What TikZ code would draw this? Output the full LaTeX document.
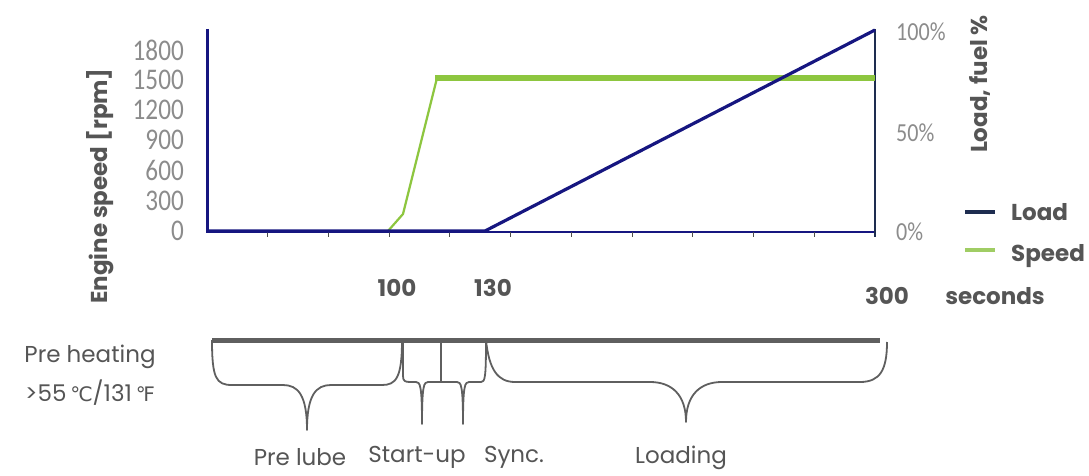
\documentclass[tikz,border=0pt]{standalone}
\usepackage{fontspec}
\setmainfont{Poppins}
\newfontfamily\numfont{Carlito}
\newfontfamily\symfont{DejaVu Sans}
\definecolor{navy}{RGB}{22,22,128}
\definecolor{lime}{RGB}{141,198,63}
\definecolor{legnavy}{RGB}{30,45,80}
\definecolor{leglime}{RGB}{160,205,100}
\definecolor{txt}{RGB}{85,85,85}
\definecolor{tick}{RGB}{140,140,140}
\definecolor{bar}{RGB}{95,95,95}
\begin{document}
\begin{tikzpicture}[x=1pt,y=-1pt,
  axisline/.style={navy,line width=2pt},
  loadline/.style={navy,line width=3.2pt,line join=round},
  speedthin/.style={lime,line width=2.2pt,line join=round},
  speedthick/.style={lime,line width=6pt},
  tickmark/.style={black!70,line width=1pt},
  leftnum/.style={anchor=east,text=tick,inner sep=0pt,font=\numfont\fontsize{30}{30}\selectfont},
  rightnum/.style={anchor=west,text=tick,inner sep=0pt,font=\numfont\fontsize{26}{26}\selectfont},
  axlabel/.style={text=txt,inner sep=0pt,font=\fontsize{23}{26}\selectfont\bfseries},
  phase/.style={text=txt,inner sep=0pt,font=\fontsize{23}{27}\selectfont},
  degsym/.style={font=\symfont\fontsize{20}{24}\selectfont},
  brace/.style={bar,line width=1.8pt,line join=round},
  timebar/.style={bar,line width=5pt}]
\useasboundingbox (0,0) rectangle (1089,476);

% --- plot axes
\draw[navy,line width=3pt] (207,29) -- (207,233);
\draw[axisline] (207,232) -- (875,232);
\draw[legnavy,line width=1.4pt] (875,29) -- (875,237);
\foreach \k in {1,...,10}
  \draw[tickmark] ({207+\k*60.73},232) -- ({207+\k*60.73},237);

% --- speed and load curves
\draw[speedthin] (388,231) -- (403,214) -- (437,78);
\draw[speedthick] (435,78) -- (875,78);
\draw[loadline] (207,231) -- (485,231) -- (875,30);

% --- left scale (engine speed)
\node[leftnum] (r1800) at (184,50)  {\scalebox{0.84}[1]{1800}};
\node[leftnum] (r1500) at (184,80)  {\scalebox{0.84}[1]{1500}};
\node[leftnum] (r1200) at (184,110) {\scalebox{0.84}[1]{1200}};
\node[leftnum] (r900)  at (184,140) {\scalebox{0.84}[1]{900}};
\node[leftnum] (r600)  at (184,170) {\scalebox{0.84}[1]{600}};
\node[leftnum] (r300)  at (184,201) {\scalebox{0.84}[1]{300}};
\node[leftnum] (r0)    at (184,231) {\scalebox{0.84}[1]{0}};
\node[axlabel,rotate=90] (speedlab) at (100,186) {Engine speed [rpm]};

% --- right scale (load)
\node[rightnum] (p100) at (896,32)  {\scalebox{0.85}[1]{100\%}};
\node[rightnum] (p50)  at (896,133) {\scalebox{0.85}[1]{50\%}};
\node[rightnum] (p0)   at (896,232) {\scalebox{0.85}[1]{0\%}};
\node[axlabel,rotate=90] (loadlab) at (980,84) {Load, fuel \%};

% --- legend
\draw[legnavy,line width=4pt] (965,212) -- (995,212);
\draw[leglime,line width=4pt] (965,250) -- (995,250);
\node[axlabel,anchor=west] (legload)  at (1011,212) {Load};
\node[axlabel,anchor=west] (legspeed) at (1011,256) {Speed};

% --- time axis labels
\node[axlabel] (t100) at (397,288) {100};
\node[axlabel] (t130) at (493,288) {130};
\node[axlabel] (t300) at (887,296) {300};
\node[axlabel] (tsec) at (995,296) {seconds};

% --- phase timeline
\draw[timebar] (212,340) -- (880,340);
% pre lube
\draw[brace] (212,340) .. controls (212,378) and (216,385) .. (232,385)
  -- (283,385) .. controls (298,385) and (307,395) .. (307,430)
  .. controls (307,395) and (316,385) .. (331,385)
  -- (382,385) .. controls (396,385) and (402,378) .. (402,340);
% start-up
\draw[brace] (403,340) -- (403,376) .. controls (403,381) and (405,382) .. (410,382)
  -- (416,382) .. controls (420,382) and (422,385) .. (422,424)
  .. controls (422,385) and (424,382) .. (428,382)
  -- (441,382) -- (441,340);
% sync
\draw[brace] (441,382) -- (457,382) .. controls (461,382) and (463,385) .. (463,424)
  .. controls (463,385) and (465,382) .. (469,382)
  -- (481,382) .. controls (485,382) and (486,378) .. (486,340);
% loading
\draw[brace] (486,340) .. controls (489,370) and (498,382) .. (515,382)
  -- (650,382) .. controls (672,382) and (686,395) .. (686,422)
  .. controls (686,395) and (700,382) .. (722,382)
  -- (860,382) .. controls (880,382) and (887,370) .. (887,342);

% --- phase labels
\node[phase] (preheat) at (90,357) {Pre heating};
\node[phase] (temp)    at (90,393) {>55\,{\symfont\fontsize{20}{24}\selectfont ℃}/131\,{\symfont\fontsize{20}{24}\selectfont ℉}};
\node[phase] (prelube) at (300,457) {Pre lube};
\node[phase] (startup) at (417,457) {Start-up};
\node[phase] (sync)    at (514,457) {Sync.};
\node[phase] (loading) at (681,458) {Loading};
\end{tikzpicture}
\end{document}
